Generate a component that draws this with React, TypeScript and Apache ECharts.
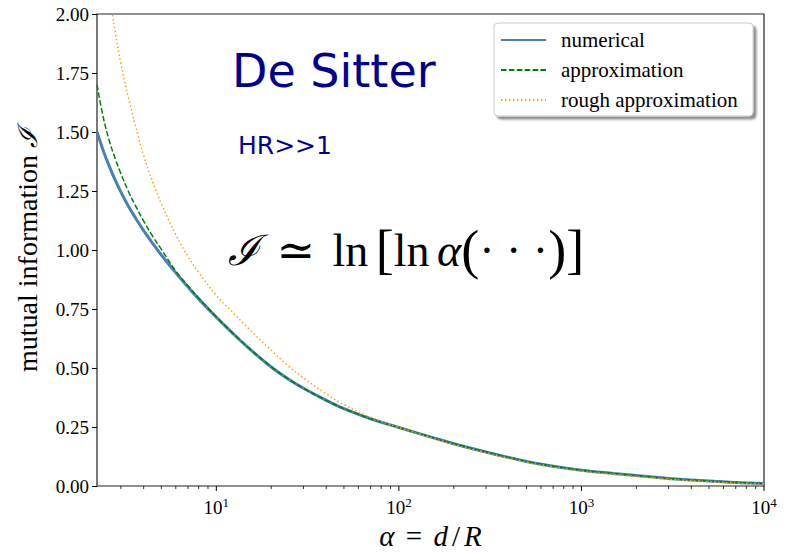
import React, { useEffect, useRef } from "react";
import * as echarts from "echarts";

// ---- data ----
const alpha = [2.22, 2.4, 2.6, 2.8, 3, 3.3, 3.6, 4, 4.5, 5, 6, 7, 8, 10, 12, 15, 20, 25, 30, 40, 50, 70, 100, 150, 200, 300, 500, 700, 1000, 1500, 2000, 3000, 5000, 7000, 10000];
const numerical = [1.5, 1.422, 1.352, 1.294, 1.246, 1.185, 1.137, 1.082, 1.026, 0.979, 0.903, 0.843, 0.793, 0.715, 0.655, 0.585, 0.504, 0.451, 0.414, 0.363, 0.328, 0.285, 0.248, 0.207, 0.179, 0.144, 0.104, 0.084, 0.067, 0.053, 0.044, 0.032, 0.021, 0.015, 0.011];
const approximation = [1.7, 1.564, 1.46, 1.385, 1.324, 1.248, 1.189, 1.122, 1.056, 1.003, 0.91, 0.848, 0.797, 0.717, 0.656, 0.586, 0.505, 0.452, 0.414, 0.363, 0.328, 0.285, 0.248, 0.207, 0.179, 0.144, 0.104, 0.084, 0.067, 0.053, 0.044, 0.032, 0.021, 0.015, 0.011];
const rough = [2.5, 2.3, 2.08, 1.92, 1.79, 1.645, 1.53, 1.4, 1.285, 1.195, 1.065, 0.972, 0.905, 0.808, 0.744, 0.668, 0.575, 0.506, 0.458, 0.39, 0.345, 0.291, 0.248, 0.204, 0.175, 0.14, 0.1, 0.08, 0.063, 0.049, 0.04, 0.029, 0.018, 0.012, 0.008];

const seriesNames = ["numerical", "approximation", "rough approximation"];
const majorXTicks = [10, 100, 1000, 10000];
const minorXTicks = [3, 4, 5, 6, 7, 8, 9, 20, 30, 40, 50, 60, 70, 80, 90, 200, 300, 400, 500, 600, 700, 800, 900, 2000, 3000, 4000, 5000, 6000, 7000, 8000, 9000];
const yTicks = { min: 0, max: 2, interval: 0.25 };

const SERIF = '"Liberation Serif", "DejaVu Serif", serif';

export default function App() {
  const ref = useRef<HTMLDivElement>(null);

  useEffect(() => {
    document.body.style.margin = "0";
    const chart = echarts.init(ref.current!, null, { renderer: "svg" });

    const pairs = (ys: number[]) => alpha.map((a, i) => [a, ys[i]]);
    const tickData = [
      ...majorXTicks.map((v) => [v, 1]),
      ...minorXTicks.map((v) => [v, 0]),
    ];

    chart.setOption({
      animation: false,
      backgroundColor: "#fff",
      grid: {
        left: 97,
        right: 26,
        top: 14,
        bottom: 66,
        containLabel: false,
        outerBoundsMode: "none",
        show: true,
        borderColor: "#222",
        borderWidth: 1.2,
        backgroundColor: "transparent",
      },
      xAxis: {
        type: "log",
        logBase: 10,
        min: 2.22,
        max: 10000,
        axisLine: { show: false },
        axisTick: { show: false },
        splitLine: { show: false },
        minorTick: { show: false },
        axisLabel: {
          margin: 10,
          color: "#000",
          formatter: (v: number) => {
            const l = Math.log10(v);
            const e = Math.round(l);
            if (Math.abs(l - e) > 1e-6) return "";
            return `{b|10}{s|${e}}`;
          },
          rich: {
            b: { fontFamily: SERIF, fontSize: 19, color: "#000" },
            s: { fontFamily: SERIF, fontSize: 13, color: "#000", padding: [0, 0, 9, 0] },
          },
        },
        name: "{i|α}{r| = }{i|d}{r|/}{i|R}",
        nameLocation: "middle",
        nameGap: 27,
        nameTextStyle: {
          fontFamily: SERIF,
          fontSize: 29,
          color: "#000",
          rich: {
            i: { fontFamily: SERIF, fontSize: 29, fontStyle: "italic", color: "#000" },
            r: { fontFamily: SERIF, fontSize: 29, color: "#000", padding: [0, 4, 0, 4] },
          },
        },
      },
      yAxis: {
        type: "value",
        min: yTicks.min,
        max: yTicks.max,
        interval: yTicks.interval,
        axisLine: { show: false },
        axisTick: { show: true, inside: false, length: 5, lineStyle: { color: "#000", width: 1 } },
        splitLine: { show: false },
        axisLabel: {
          margin: 8,
          color: "#000",
          fontFamily: SERIF,
          fontSize: 19,
          formatter: (v: number) => v.toFixed(2),
        },
        name: "{n|mutual information }{s|ℐ}",
        nameLocation: "middle",
        nameGap: 56,
        nameTextStyle: {
          fontFamily: SERIF,
          fontSize: 28,
          color: "#000",
          rich: {
            n: { fontFamily: SERIF, fontSize: 28, color: "#000" },
            s: { fontFamily: '"DejaVu Serif", serif', fontSize: 27, fontStyle: "italic", color: "#000" },
          },
        },
      },
      legend: {
        data: seriesNames,
        orient: "vertical",
        left: 500,
        top: 29,
        padding: 0,
        itemWidth: 45,
        itemHeight: 14,
        itemGap: 8,
        selectedMode: false,
        z: 10,
        itemStyle: { color: "transparent", borderWidth: 0, opacity: 0 },
        textStyle: {
          fontFamily: SERIF,
          fontSize: 21,
          color: "#000",
          lineHeight: 22,
          padding: [0, 0, 0, 10],
        },
      },
      graphic: [
        {
          type: "rect",
          z: 8,
          shape: { x: 494, y: 23, width: 259, height: 93, r: 4 },
          style: {
            fill: "#fff",
            stroke: "#cccccc",
            lineWidth: 1,
            shadowColor: "rgba(0,0,0,0.45)",
            shadowOffsetX: 3,
            shadowOffsetY: 3,
            shadowBlur: 2,
          },
        },
        {
          type: "text",
          z: 9,
          x: 232,
          y: 71,
          style: {
            text: "De Sitter",
            fill: "#000090",
            font: '46px "Comic Sans MS", "DejaVu Sans", sans-serif',
            textVerticalAlign: "middle",
          },
        },
        {
          type: "text",
          z: 9,
          x: 238,
          y: 145,
          style: {
            text: "HR>>1",
            fill: "#000090",
            font: '25px "Comic Sans MS", "DejaVu Sans", sans-serif',
            textVerticalAlign: "middle",
          },
        },
        {
          type: "text",
          z: 9,
          x: 228,
          y: 250,
          style: {
            text: "{s|ℐ}{g| }{r|≃}{g| }{r|ln}{t| }{b|[}{r|ln}{t| }{i|α}{b|(}{r|· · ·}{b|)}{b|]}",
            fill: "#000",
            textVerticalAlign: "middle",
            rich: {
              s: { fontFamily: '"DejaVu Serif", serif', fontStyle: "italic", fontSize: 42, fill: "#000" },
              g: { fontFamily: SERIF, fontSize: 46, fill: "#000", padding: [0, 3, 0, 3] },
              t: { fontFamily: SERIF, fontSize: 30, fill: "#000" },
              r: { fontFamily: SERIF, fontSize: 46, fill: "#000" },
              i: { fontFamily: SERIF, fontStyle: "italic", fontSize: 46, fill: "#000" },
              b: { fontFamily: SERIF, fontSize: 54, fill: "#000" },
            },
          },
        },
      ],
      series: [
        {
          name: seriesNames[0],
          type: "line",
          data: pairs(numerical),
          symbol: "none",
          smooth: 0.4,
          clip: true,
          lineStyle: { color: "#4682B4", width: 3 },
          itemStyle: { color: "#4682B4" },
          z: 2,
        },
        {
          name: seriesNames[1],
          type: "line",
          data: pairs(approximation),
          symbol: "none",
          smooth: 0.4,
          clip: true,
          lineStyle: { color: "#008000", width: 1.5, type: [5.5, 2.4] },
          itemStyle: { color: "#008000" },
          z: 3,
        },
        {
          name: seriesNames[2],
          type: "line",
          data: pairs(rough),
          symbol: "none",
          smooth: 0.4,
          clip: true,
          lineStyle: { color: "#FFA500", width: 1.5, type: [1.5, 2.5] },
          itemStyle: { color: "#FFA500" },
          z: 4,
        },
        {
          name: "xticks",
          type: "custom",
          silent: true,
          clip: false,
          data: tickData,
          renderItem: (_params: any, api: any) => {
            const v = api.value(0);
            const major = api.value(1) === 1;
            const p = api.coord([v, 0]);
            return {
              type: "line",
              shape: { x1: p[0], y1: p[1], x2: p[0], y2: p[1] + (major ? 5 : 3) },
              style: { stroke: "#000", lineWidth: major ? 1 : 0.8 },
            };
          },
          z: 5,
        },
      ],
    });

    return () => chart.dispose();
  }, []);

  return (
    <div
      ref={ref}
      style={{ position: "fixed", left: 0, top: 0, width: 790, height: 552, background: "#fff" }}
    />
  );
}
